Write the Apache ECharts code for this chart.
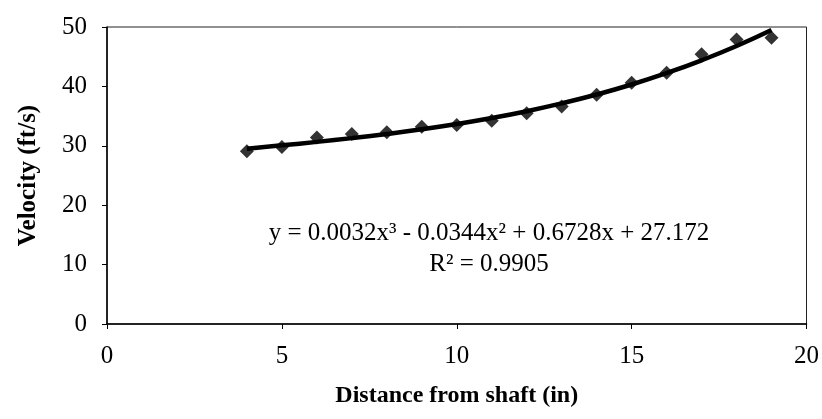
<!DOCTYPE html>
<html>
<head>
<meta charset="utf-8">
<script src="https://cdn.jsdelivr.net/npm/echarts@6/dist/echarts.min.js"></script>
<style>
html,body{margin:0;padding:0;background:#fff;}
#chart{width:822px;height:419px;}
</style>
</head>
<body>
<div id="chart"></div>
<script>
// Measured data (Distance from shaft in inches, Velocity in ft/s)
var distances = [4, 5, 6, 7, 8, 9, 10, 11, 12, 13, 14, 15, 16, 17, 18, 19];
var velocities = [29.1, 29.8, 31.4, 32.0, 32.3, 33.2, 33.5, 34.2, 35.5, 36.6, 38.6, 40.6, 42.3, 45.4, 47.9, 48.2];
// Trendline values
var trendValues = [29.52, 30.08, 30.66, 31.29, 31.99, 32.77, 33.66, 34.67, 35.82, 37.14, 38.63, 40.32, 42.24, 44.39, 46.80, 49.49];
var equationText = 'y = 0.0032x\u00B3 - 0.0344x\u00B2 + 0.6728x + 27.172';
var r2Text = 'R\u00B2 = 0.9905';
var xTitle = 'Distance from shaft (in)';
var yTitle = 'Velocity (ft/s)';

var font = '"Liberation Serif", "Times New Roman", serif';
var chart = echarts.init(document.getElementById('chart'), null, {renderer: 'canvas'});

var points = distances.map(function (d, i) { return [d, velocities[i]]; });
var trend = distances.map(function (d, i) { return [d, trendValues[i]]; });

chart.setOption({
  animation: false,
  backgroundColor: '#fff',
  grid: {
    left: 107, right: 15, top: 27, bottom: 95,
    show: true, borderColor: '#222', borderWidth: 1, backgroundColor: 'transparent'
  },
  xAxis: {
    type: 'value', min: 0, max: 20, interval: 5,
    axisLine: {show: true, onZero: false, lineStyle: {color: '#000', width: 1.5}},
    axisTick: {show: true, length: 5, lineStyle: {color: '#000'}},
    axisLabel: {color: '#000', fontFamily: font, fontSize: 25, margin: 20},
    splitLine: {show: false},
    name: xTitle, nameLocation: 'middle', nameGap: 60,
    nameTextStyle: {color: '#000', fontFamily: font, fontSize: 24, fontWeight: 'bold'}
  },
  yAxis: {
    type: 'value', min: 0, max: 50, interval: 10,
    axisLine: {show: true, lineStyle: {color: '#000', width: 1.5}},
    axisTick: {show: true, length: 5, lineStyle: {color: '#000'}},
    axisLabel: {color: '#000', fontFamily: font, fontSize: 25, margin: 20},
    splitLine: {show: false},
    name: yTitle, nameLocation: 'middle', nameGap: 66, nameRotate: 90,
    nameTextStyle: {color: '#000', fontFamily: font, fontSize: 25, fontWeight: 'bold'}
  },
  series: [
    {
      type: 'line', data: trend, smooth: true, showSymbol: false,
      lineStyle: {color: '#000', width: 4.5}, z: 2
    },
    {
      type: 'scatter', data: points, symbol: 'diamond', symbolSize: 14,
      itemStyle: {color: '#000'}, z: 3
    }
  ],
  graphic: [
    {
      type: 'text', x: 489, y: 233,
      style: {text: equationText, font: '25px ' + font, fill: '#000', textAlign: 'center', textVerticalAlign: 'middle'}
    },
    {
      type: 'text', x: 489, y: 264,
      style: {text: r2Text, font: '25px ' + font, fill: '#000', textAlign: 'center', textVerticalAlign: 'middle'}
    }
  ]
});
</script>
</body>
</html>
